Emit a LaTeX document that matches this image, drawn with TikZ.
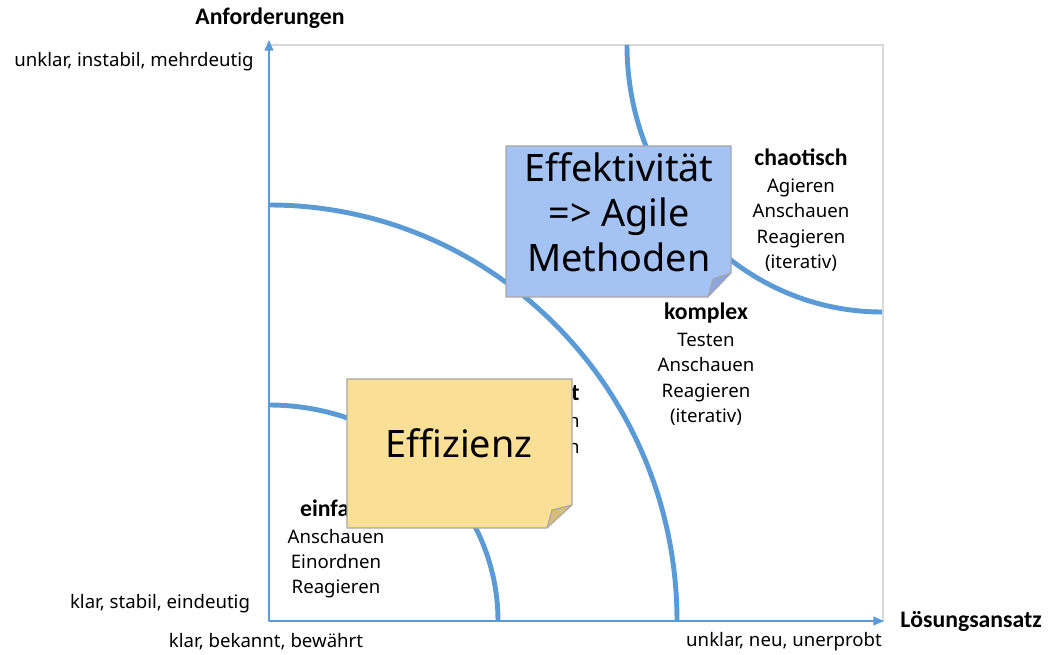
\documentclass[tikz,border=0pt]{standalone}
\usepackage{fontspec}
\setmainfont{Noto Sans}
\newfontfamily\hdrfont{Carlito}
\usetikzlibrary{arrows.meta}
\definecolor{arcblue}{HTML}{5B9BD5}
\definecolor{framegray}{HTML}{D9D9D9}
\definecolor{notegray}{HTML}{A6A6A6}
\definecolor{bluenote}{HTML}{A4C2F4}
\definecolor{bluefold}{HTML}{8CA5DC}
\definecolor{yellownote}{HTML}{FAE097}
\definecolor{yellowfold}{HTML}{D8BC7A}
\newcommand{\hd}[1]{{\hdrfont\bfseries\fontsize{13.5}{14.2}\selectfont #1}}
\begin{document}
\begin{tikzpicture}[x=0.02cm,y=0.02cm,
  lbl/.style={font=\fontsize{10.6}{12}\selectfont, inner sep=0},
  hdr/.style={font=\hdrfont\bfseries\fontsize{13.5}{14}\selectfont, inner sep=0},
  blk/.style={font=\fontsize{10.6}{14.4}\selectfont, align=center, inner sep=0},
  arcline/.style={draw=arcblue, line width=2.8pt},
  axisline/.style={draw=arcblue, line width=0.8pt, -{Triangle[length=6pt,width=5pt]}},
  notetext/.style={font=\fontsize{21.5}{25.6}\selectfont, align=center, inner sep=0},
  noteedge/.style={draw=notegray, line width=0.6pt}]
\useasboundingbox (0,0) rectangle (1051,655);
% frame
\draw[framegray, line width=0.6pt] (269,34) rectangle (883,610);
% arcs
\draw[arcline] (269,250) arc[start angle=90, end angle=0, x radius=229, y radius=216];
\draw[arcline] (269,450) arc[start angle=90, end angle=0, x radius=408, y radius=416];
\draw[arcline] (627,610) arc[start angle=180, end angle=270, x radius=255, y radius=267];
% axes
\coordinate (O) at (269,34);
\coordinate (ytop) at (269,615);
\coordinate (xend) at (884,34);
\draw[axisline] (O) -- (ytop);
\draw[axisline] (O) -- (xend);
% axis labels
\node[hdr] (anf) at (270,637) {Anforderungen};
\node[hdr] (loes) at (971,34) {Lösungsansatz};
\node[lbl] (yhi) at (134,593) {unklar, instabil, mehrdeutig};
\node[lbl] (ylo) at (160,51) {klar, stabil, eindeutig};
\node[lbl] (xlo) at (266,13) {klar, bekannt, bewährt};
\node[lbl] (xhi) at (784,13) {unklar, neu, unerprobt};
% domain blocks
\node[blk] (chaos) at (801,445) {\hd{chaotisch}\\[1pt]Agieren\\Anschauen\\Reagieren\\(iterativ)};
\node[blk] (kompl) at (706,291) {\hd{komplex}\\[1pt]Testen\\Anschauen\\Reagieren\\(iterativ)};
\node[blk, align=right, anchor=east] (kompz) at (580,234) {\hd{kompliziert}\\[1pt]Anschauen\\Analysieren};
\node[blk] (einf) at (336,106) {\hd{einfach}\\[1pt]Anschauen\\Einordnen\\Reagieren};
% blue note
\fill[bluenote] (506,509) -- (731,509) -- (731,382) -- (708,358) -- (506,358) -- cycle;
\fill[bluefold] (731,382) -- (713,376) -- (708,358) -- cycle;
\draw[noteedge] (506,509) -- (731,509) -- (731,382) -- (708,358) -- (506,358) -- cycle;
\draw[noteedge] (731,382) -- (713,376) -- (708,358);
\node[notetext] (eff) at (619,443) {Effektivität\\=> Agile\\Methoden};
% yellow note
\fill[yellownote] (347,276) -- (572,276) -- (572,150) -- (547,127) -- (347,127) -- cycle;
\fill[yellowfold] (572,150) -- (552,145) -- (547,127) -- cycle;
\draw[noteedge] (347,276) -- (572,276) -- (572,150) -- (547,127) -- (347,127) -- cycle;
\draw[noteedge] (572,150) -- (552,145) -- (547,127);
\node[notetext] (effz) at (459,212) {Effizienz};
\end{tikzpicture}
\end{document}
